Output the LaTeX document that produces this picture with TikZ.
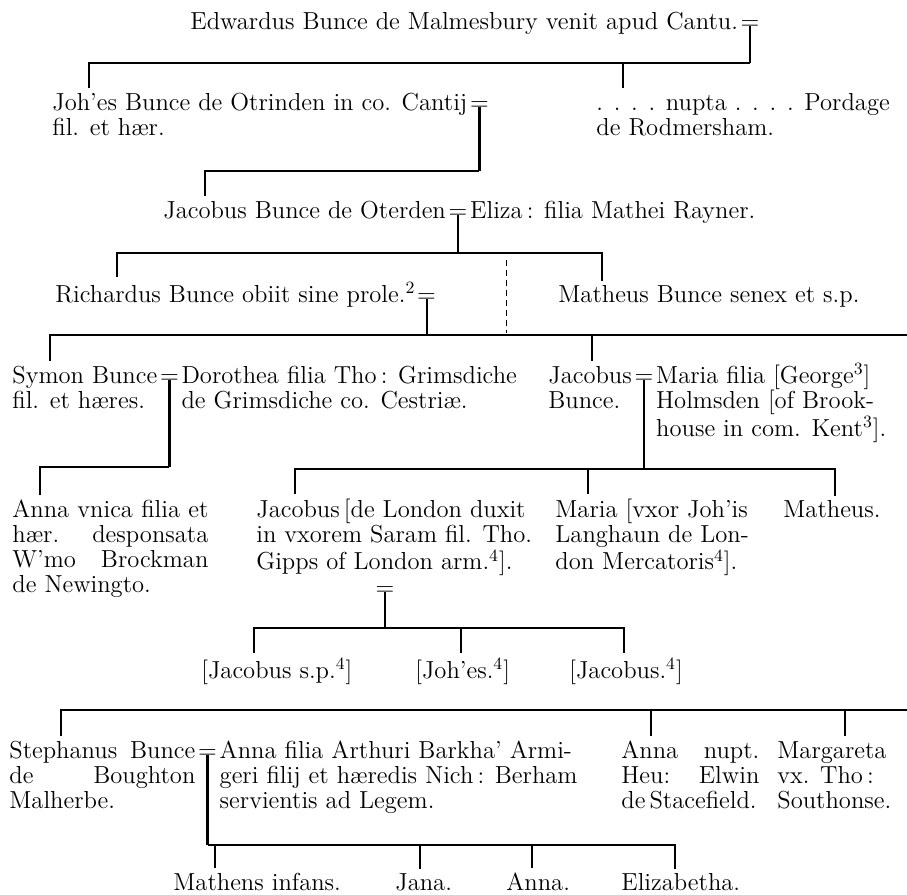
\documentclass[tikz,border=0pt]{standalone}
\usepackage{tikz}
\usetikzlibrary{positioning}

\newcommand{\lns}[1]{\begin{tabular}[t]{@{}l@{}}#1\end{tabular}}

\begin{document}
\begin{tikzpicture}[
x=0.5pt, y=-0.5pt,
person/.style={
    anchor=base west,
    inner xsep=0pt,
    inner ysep=2pt,
    font=\fontsize{12.3}{12.5}\selectfont
},
block/.style={person, align=justify, text width=#1},
wed/.style={
    anchor=base west,
    inner sep=0pt,
    font=\fontsize{12.3}{12.5}\selectfont
},
link/.style={line width=0.8pt},
stemline/.style={line width=1.1pt}
]
\useasboundingbox (0,0) rectangle (907,895);

\node[person] (edw) at (190,29) {Edwardus Bunce de Malmesbury venit apud Cantu.};
\node[wed, right=1pt of edw.base east, anchor=base west] (m1) {=};

\node[person] (joh) at (52,110) {\lns{Joh’es Bunce de Otrinden in co. Cantij\\fil. et hær.}};
\node[wed, right=1pt of joh.base east, anchor=base west] (m2) {=};
\node[person] (nup) at (596,110) {\lns{. . . . nupta . . . . Pordage\\de Rodmersham.}};

\node[person] (jac) at (163,218) {Jacobus Bunce de Oterden};
\node[wed, right=1pt of jac.base east, anchor=base west] (m3) {=};
\node[person, right=1pt of m3.base east, anchor=base west] (eli) {Eliza\,: filia Mathei Rayner.};

\node[person] (ric) at (55,302) {Richardus Bunce obiit sine prole.\textsuperscript{2}};
\node[wed, right=0.5pt of ric.base east, anchor=base west] (m4) {=};
\node[person] (mat) at (558,302) {Matheus Bunce senex et s.p.};

\node[person] (sym) at (12,383) {\lns{Symon Bunce\\fil. et hæres.}};
\node[wed, right=1pt of sym.base east, anchor=base west] (m5) {=};
\node[person, right=1pt of m5.base east, anchor=base west] (dor) {\lns{Dorothea filia Tho\,: Grimsdiche\\de Grimsdiche co. Cestriæ.}};
\node[person] (jab) at (548,383) {\lns{Jacobus\\Bunce.}};
\node[wed, right=1pt of jab.base east, anchor=base west] (m6) {=};
\node[person, right=1pt of m6.base east, anchor=base west] (mar) {\lns{Maria filia [George\textsuperscript{3}]\\Holmsden [of Brook-\\house in com. Kent\textsuperscript{3}].}};

\node[block=98pt] (ann) at (12,517) {Anna vnica filia et\linebreak hær. desponsata\linebreak W’mo Brockman\linebreak de Newingto.};
\node[person] (jas) at (256,517) {\lns{Jacobus\,[de London duxit\\in vxorem Saram fil. Tho.\\Gipps of London arm.\textsuperscript{4}].}};
\node[person] (mae) at (555,517) {\lns{Maria [vxor Joh’is\\Langhaun de Lon-\\don Mercatoris\textsuperscript{4}].}};
\node[person] (mth) at (783,517) {Matheus.};
\node[wed, anchor=base] (m7) at (385,595) {=};

\node[person] (js1) at (201,678) {[Jacobus s.p.\textsuperscript{4}]};
\node[person] (js2) at (415,678) {[Joh’es.\textsuperscript{4}]};
\node[person] (js3) at (569,678) {[Jacobus.\textsuperscript{4}]};

\node[block=93pt] (ste) at (9,758) {Stephanus Bunce\linebreak de Boughton\linebreak Malherbe.};
\node[wed, right=1pt of ste.base east, anchor=base west] (m8) {=};
\node[person, right=1pt of m8.base east, anchor=base west] (anb) {\lns{Anna filia Arthuri Barkha’ Armi-\\geri filij et hæredis Nich\,: Berham\\servientis ad Legem.}};
\node[block=69pt] (anc) at (621,758) {Anna nupt.\linebreak Heu: Elwin\linebreak de\,Stacefield.};
\node[person] (mgt) at (777,758) {\lns{Margareta\\vx. Tho\,:\\Southonse.}};

\node[person] (ch1) at (173,890) {Mathens infans.};
\node[person] (ch2) at (395,890) {Jana.};
\node[person] (ch3) at (506,890) {Anna.};
\node[person] (ch4) at (621,890) {Elizabetha.};

\coordinate (b1a) at (89,63);
\coordinate (b1b) at (623,63);
\coordinate (b2) at (205,171);
\coordinate (b3a) at (117,253);
\coordinate (b3b) at (602,253);
\coordinate (b4a) at (50,335);
\coordinate (b4b) at (592,335);
\coordinate (b4c) at (907,335);
\coordinate (b5) at (40,467);
\coordinate (b6a) at (295,469);
\coordinate (b6b) at (588,469);
\coordinate (b6c) at (835,469);
\coordinate (b7a) at (254,628);
\coordinate (b7b) at (461,628);
\coordinate (b7c) at (624,628);
\coordinate (b8a) at (61,710);
\coordinate (b8b) at (651,710);
\coordinate (b8c) at (845,710);
\coordinate (b8d) at (907,710);
\coordinate (b9a) at (215,845);
\coordinate (b9b) at (420,845);
\coordinate (b9c) at (532,845);
\coordinate (b9d) at (675,845);
\coordinate (dz1) at (506,260);
\coordinate (dz2) at (506,333);

\draw[stemline] ([yshift=1.6pt]m1.base) -- (m1.base |- b1a);
\draw[link] (b1a |- joh.north) -- (b1a) -- (m1.base |- b1a);
\draw[link] (b1b) -- (b1b |- nup.north);

\draw[stemline] ([yshift=1.6pt]m2.base) -- (m2.base |- b2);
\draw[link] (b2 |- jac.north) -- (b2) -- (m2.base |- b2);

\draw[stemline] ([yshift=1.6pt]m3.base) -- (m3.base |- b3a);
\draw[link] (b3a |- ric.north) -- (b3a) -- (b3b) -- (b3b |- mat.north);
\draw[link, dashed, line width=0.5pt, dash pattern=on 3pt off 2pt] (dz1) -- (dz2);

\draw[stemline] ([yshift=1.6pt]m4.base) -- (m4.base |- b4a);
\draw[link] (b4a |- sym.north) -- (b4a) -- (b4c);
\draw[link] (b4b) -- (b4b |- jab.north);

\draw[stemline] ([yshift=1.6pt]m5.base) -- (m5.base |- b5);
\draw[link] (b5 |- ann.north) -- (b5) -- (m5.base |- b5);

\draw[stemline] ([yshift=1.6pt]m6.base) -- (m6.base |- b6a);
\draw[link] (b6a |- jas.north) -- (b6a) -- (b6c) -- (b6c |- mth.north);
\draw[link] (b6b) -- (b6b |- mae.north);

\draw[stemline] ([yshift=1.6pt]m7.base) -- (m7.base |- b7a);
\draw[link] (b7a |- js1.north) -- (b7a) -- (b7c) -- (b7c |- js3.north);
\draw[link] (b7b) -- (b7b |- js2.north);

\draw[link] (b8a |- ste.north) -- (b8a) -- (b8d);
\draw[link] (b8b) -- (b8b |- anc.north);
\draw[link] (b8c) -- (b8c |- mgt.north);

\draw[stemline] ([yshift=1.6pt]m8.base) -- (m8.base |- b9a);
\draw[link] (m8.base |- b9a) -- (b9d) -- (b9d |- ch4.north);
\draw[link] (b9a) -- (b9a |- ch1.north);
\draw[link] (b9b) -- (b9b |- ch2.north);
\draw[link] (b9c) -- (b9c |- ch3.north);
\end{tikzpicture}
\end{document}
